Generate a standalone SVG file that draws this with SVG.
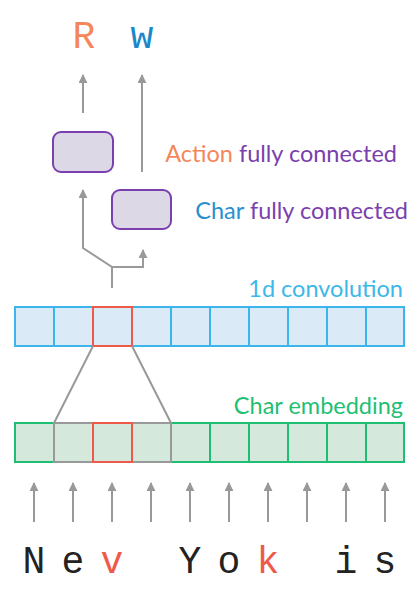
<svg xmlns="http://www.w3.org/2000/svg" width="419" height="594" viewBox="0 0 419 594">
<defs>
<marker id="ah" viewBox="0 0 10 10" refX="9" refY="5" markerWidth="4.5" markerHeight="4.5" orient="auto" markerUnits="strokeWidth">
<path d="M0,0 L10,5 L0,10 z" fill="#999"/>
</marker>
<style>
.c{fill:none;stroke:#999;stroke-width:2}
.a{fill:none;stroke:#999;stroke-width:2;marker-end:url(#ah)}
.mono{font-family:"Liberation Mono","DejaVu Sans Mono",monospace;font-size:38px;text-anchor:middle}
.lab{font-family:Lato,"Noto Sans",sans-serif;font-size:23.5px;text-anchor:end}
.conv{fill:#dbeaf7;stroke:#3bb5ea;stroke-width:2}
.emb{fill:#d5e8dc;stroke:#1fbf73;stroke-width:2}
.fc{fill:#dcd8e6;stroke:#7b3fae;stroke-width:2}
</style>
</defs>
<g id="outputs">
<text class="mono" x="84" y="48" fill="#f4875a">R</text>
<text class="mono" x="142" y="48" fill="#1a87c9">w</text>
</g>
<g id="action-fc">
<rect class="fc" x="53" y="132" width="60" height="40" rx="8"/>
<text class="lab" x="397" y="162"><tspan fill="#f4875a">Action</tspan><tspan fill="#7b3fae"> fully connected</tspan></text>
</g>
<g id="char-fc">
<rect class="fc" x="112" y="190" width="59" height="39" rx="8"/>
<text class="lab" x="408" y="219"><tspan fill="#2a8fd0">Char</tspan><tspan fill="#7b3fae"> fully connected</tspan></text>
</g>
<g id="conv">
<text class="lab" x="403" y="297" fill="#3cb8e8">1d convolution</text>
<rect class="conv" x="15" y="307" width="389" height="39"/>
<path class="conv" d="M54,307V346M93,307V346M132,307V346M171,307V346M210,307V346M249,307V346M288,307V346M327,307V346M366,307V346"/>
<rect x="93" y="307" width="39" height="39" fill="none" stroke="#ee5a4a" stroke-width="2"/>
</g>
<g id="embedding">
<text class="lab" x="403" y="414" fill="#1fbf73">Char embedding</text>
<rect class="emb" x="15" y="423" width="389" height="39"/>
<path class="emb" d="M54,423V462M93,423V462M132,423V462M171,423V462M210,423V462M249,423V462M288,423V462M327,423V462M366,423V462"/>
<path d="M54,423H171V462H54Z M93,423V462 M132,423V462" fill="none" stroke="#999" stroke-width="2"/>
<rect x="93" y="423" width="39" height="39" fill="none" stroke="#ee5a4a" stroke-width="2"/>
</g>
<g id="chars">
<text class="mono" x="34" y="573" fill="#222">N</text>
<text class="mono" x="73" y="573" fill="#222">e</text>
<text class="mono" x="112" y="573" fill="#ee5a4a">v</text>
<text class="mono" x="190" y="573" fill="#222">Y</text>
<text class="mono" x="229" y="573" fill="#222">o</text>
<text class="mono" x="268" y="573" fill="#ee5a4a">k</text>
<text class="mono" x="346" y="573" fill="#222">i</text>
<text class="mono" x="385" y="573" fill="#222">s</text>
</g>
<g id="connectors">
<path class="a" d="M83,113V75"/>
<path class="a" d="M142,172V75"/>
<path class="a" d="M112,288V267L83,248V190"/>
<path class="a" d="M112,267H143V250"/>
<path class="c" d="M93,346L54,423M132,346L171,423"/>
<path class="a" d="M34,522V483"/>
<path class="a" d="M73,522V483"/>
<path class="a" d="M112,522V483"/>
<path class="a" d="M151,522V483"/>
<path class="a" d="M190,522V483"/>
<path class="a" d="M229,522V483"/>
<path class="a" d="M268,522V483"/>
<path class="a" d="M307,522V483"/>
<path class="a" d="M346,522V483"/>
<path class="a" d="M385,522V483"/>
</g>
</svg>
